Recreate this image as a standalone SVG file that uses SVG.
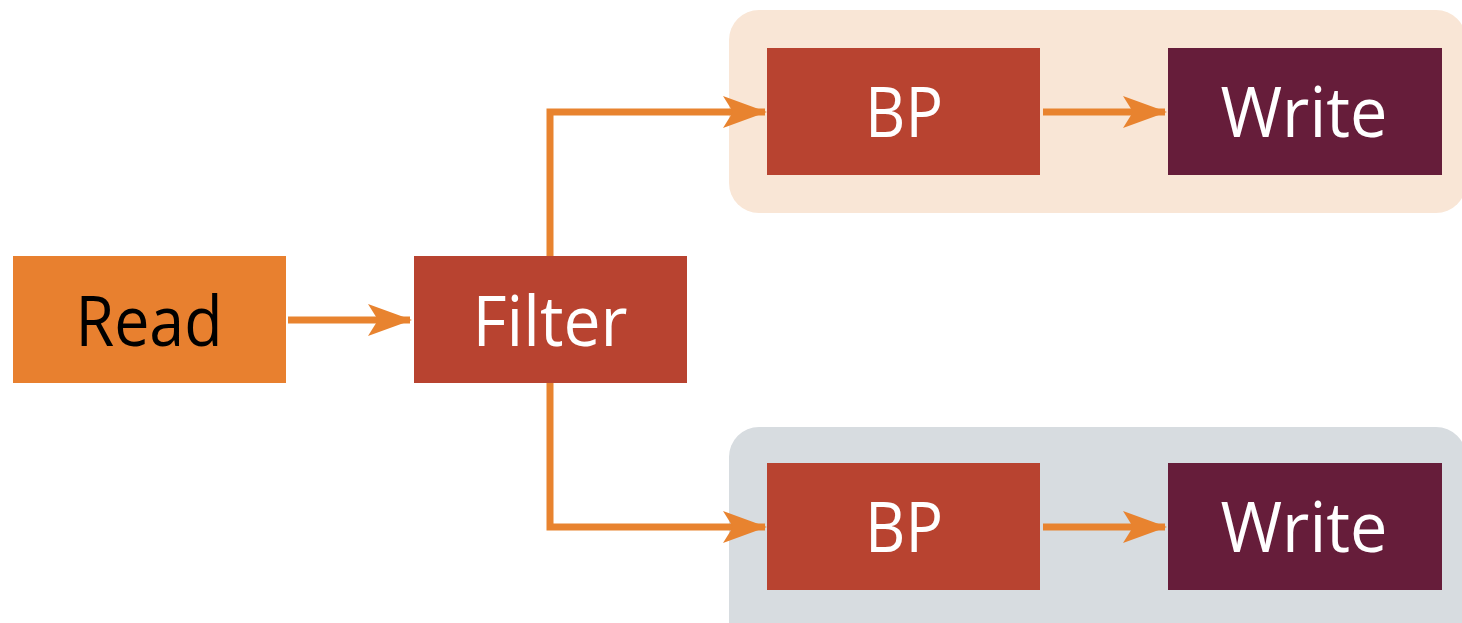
<svg xmlns="http://www.w3.org/2000/svg" width="1462" height="623" viewBox="0 0 1462 623">
  <style>
    .lbl { font-family: "Open Sans", "Noto Sans", sans-serif; font-size: 70px; font-weight: 500; text-anchor: middle; }
    .light { fill: #ffffff; }
    .dark { fill: #000000; }
    .conn { fill: none; stroke: #E8832F; stroke-width: 7; }
  </style>
  <defs>
    <marker id="arrow" viewBox="0 0 44 32" refX="42" refY="16" markerWidth="44" markerHeight="32" markerUnits="userSpaceOnUse" orient="auto">
      <path d="M0,0 L44,16 L0,32 L10,16 Z" fill="#E8832F"/>
    </marker>
  </defs>
  <rect width="1462" height="623" fill="#ffffff"/>

  <!-- group panels -->
  <g id="panel-top">
    <rect x="729" y="10" width="737" height="203" rx="30" fill="#F9E6D6"/>
  </g>
  <g id="panel-bottom">
    <rect x="729" y="427" width="737" height="240" rx="30" fill="#D7DCE0"/>
  </g>

  <!-- connectors -->
  <g id="connectors">
    <path class="conn" d="M288,320 H410" marker-end="url(#arrow)"/>
    <path class="conn" d="M550,256 V112 H765" marker-end="url(#arrow)"/>
    <path class="conn" d="M550,383 V527 H765" marker-end="url(#arrow)"/>
    <path class="conn" d="M1043,112 H1165" marker-end="url(#arrow)"/>
    <path class="conn" d="M1043,527 H1165" marker-end="url(#arrow)"/>
  </g>

  <g id="read">
    <rect x="13" y="256" width="273" height="127" fill="#E8802F"/>
    <text class="lbl dark" x="149" y="346" textLength="147" lengthAdjust="spacingAndGlyphs">Read</text>
  </g>
  <g id="filter">
    <rect x="414" y="256" width="273" height="127" fill="#B84330"/>
    <text class="lbl light" x="550" y="346" textLength="155" lengthAdjust="spacingAndGlyphs">Filter</text>
  </g>
  <g id="bp-top">
    <rect x="767" y="48" width="273" height="127" fill="#B84330"/>
    <text class="lbl light" x="904" y="137" textLength="78" lengthAdjust="spacingAndGlyphs">BP</text>
  </g>
  <g id="write-top">
    <rect x="1168" y="48" width="274" height="127" fill="#661D3A"/>
    <text class="lbl light" x="1304" y="137" textLength="167" lengthAdjust="spacingAndGlyphs">Write</text>
  </g>
  <g id="bp-bottom">
    <rect x="767" y="463" width="273" height="127" fill="#B84330"/>
    <text class="lbl light" x="904" y="552" textLength="78" lengthAdjust="spacingAndGlyphs">BP</text>
  </g>
  <g id="write-bottom">
    <rect x="1168" y="463" width="274" height="127" fill="#661D3A"/>
    <text class="lbl light" x="1304" y="552" textLength="167" lengthAdjust="spacingAndGlyphs">Write</text>
  </g>
</svg>
